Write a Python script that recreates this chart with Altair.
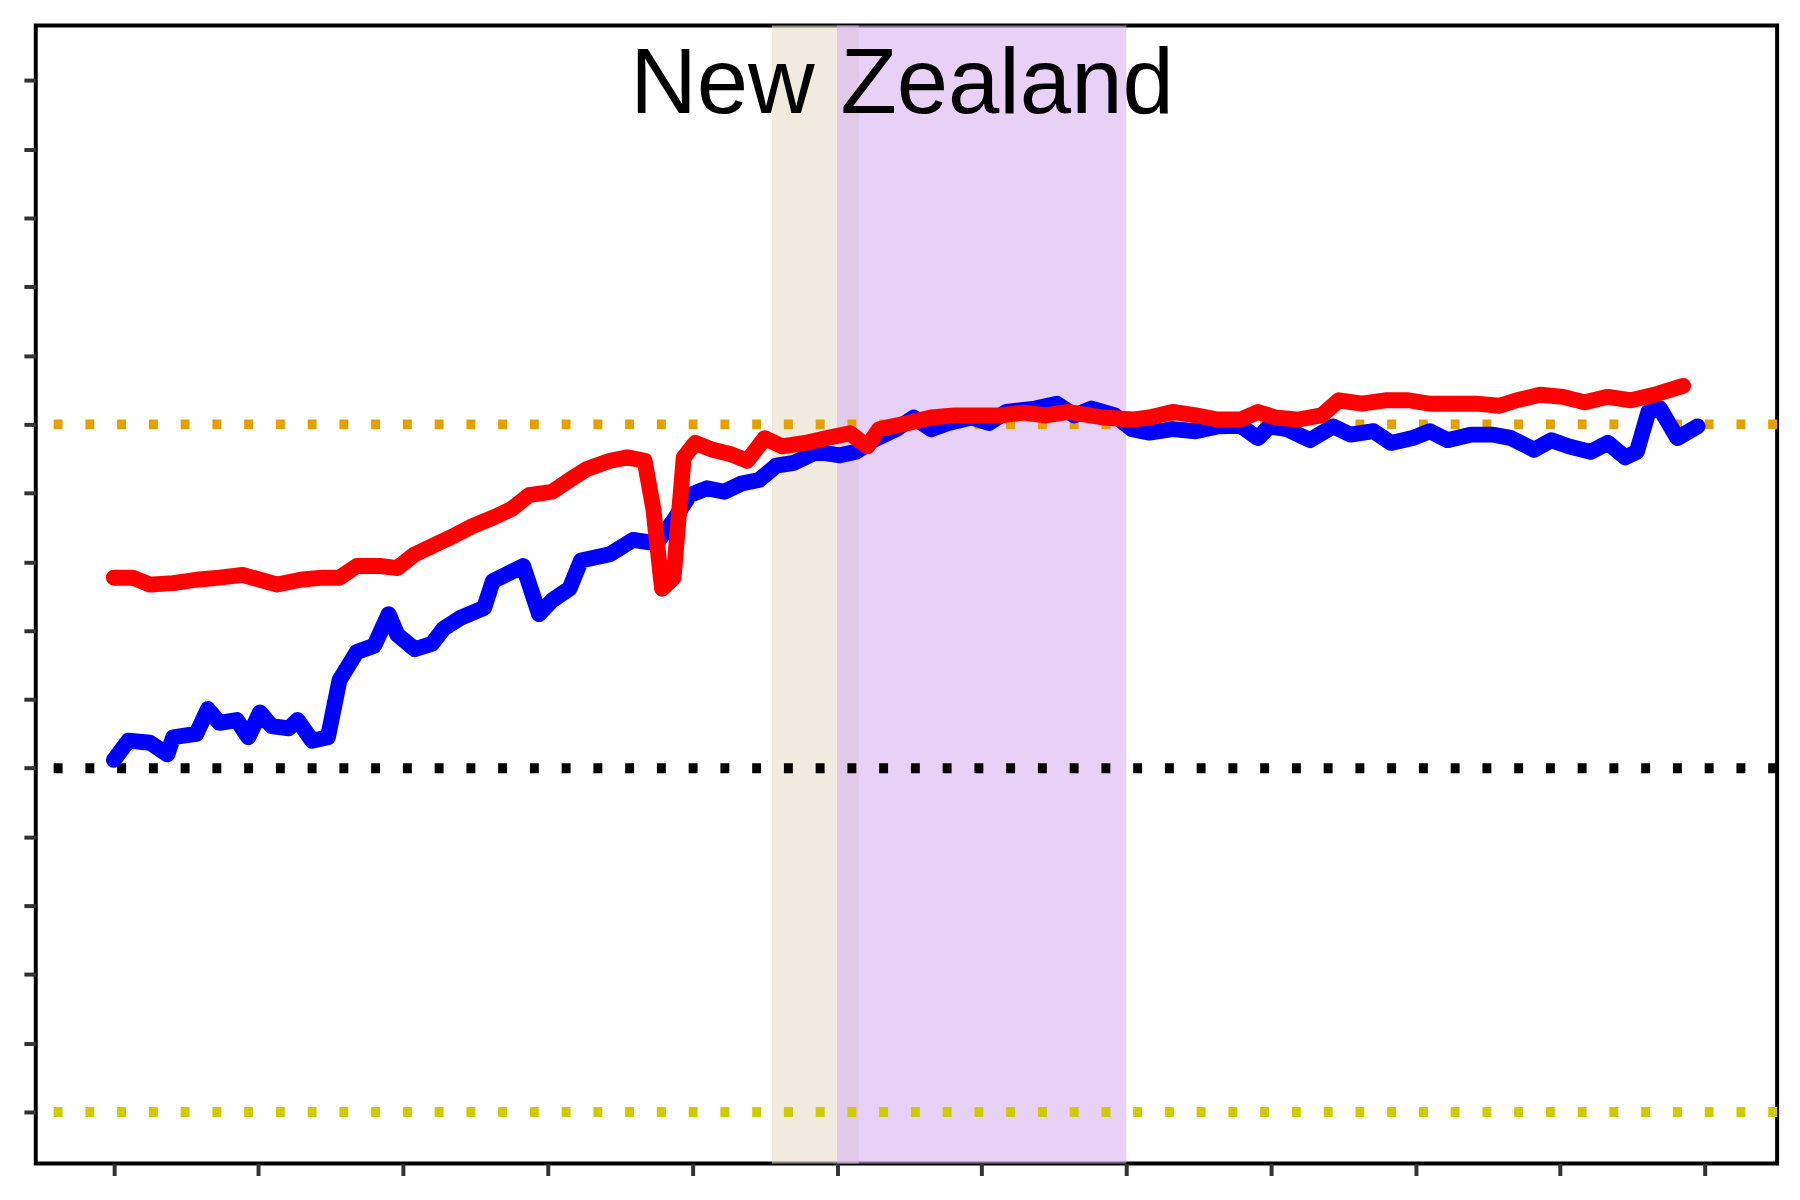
import altair as alt
import pandas as pd

# blue series
blue_x = [0, 1, 2.5, 3.7, 4.1, 5.7, 6.5, 7.3, 8.5, 9.3, 10.1, 10.9, 12.1, 12.7, 13.7, 14.8, 15.6, 16.8, 18, 19,
          19.6, 20.8, 22, 22.8, 24, 25.6, 26.2, 28.3, 29.4, 30.3, 31.5, 32.3, 34.3, 35.9, 37.5, 38.7, 39.8, 41,
          42.2, 43.4, 44.6, 45.8, 47, 48.6, 50.2, 51.3, 52.5, 54.1, 55.3, 56.5, 57.7, 59.3, 60.5, 61.7, 63.7,
          65.2, 66.4, 67.6, 69.2, 70.4, 71.6, 73.2, 74.8, 76.3, 77.9, 79.1, 79.9, 81.1, 82.7, 84.3, 85.5, 87.1,
          88.3, 89.8, 91, 92.2, 93.8, 95.4, 96.6, 98.2, 99.4, 100.6, 102.1, 103.3, 104.5, 105.3, 106.1, 106.9,
          108.1, 109.5]
blue_y = [5.12, 5.4, 5.37, 5.2, 5.45, 5.5, 5.86, 5.66, 5.7, 5.45, 5.81, 5.61, 5.58, 5.7, 5.4, 5.45, 6.28, 6.69,
          6.78, 7.24, 6.94, 6.73, 6.81, 7.03, 7.19, 7.33, 7.72, 7.94, 7.24, 7.44, 7.61, 8.02, 8.11, 8.32, 8.27,
          8.6, 8.97, 9.07, 9.02, 9.14, 9.19, 9.4, 9.44, 9.6, 9.55, 9.6, 9.77, 9.93, 10.1, 9.93, 10.02, 10.1,
          10.02, 10.18, 10.23, 10.3, 10.13, 10.23, 10.13, 9.93, 9.88, 9.93, 9.9, 9.97, 9.98, 9.8, 9.97, 9.93,
          9.77, 9.97, 9.85, 9.9, 9.73, 9.8, 9.9, 9.77, 9.85, 9.85, 9.8, 9.63, 9.77, 9.68, 9.6, 9.73, 9.52, 9.6,
          10.18, 10.23, 9.8, 9.97]

# red series
red_x = [0, 1.3, 2.5, 4.1, 5.7, 7.3, 8.9, 10.1, 11.3, 12.9, 14.4, 15.6, 16.8, 18.4, 19.6, 20.8, 22.4, 23.6,
         24.8, 26.3, 27.5, 28.7, 30.3, 31.5, 32.7, 34.3, 35.5, 36.7, 37.3, 37.9, 38.7, 39.4, 40.2, 41.4, 42.6,
         43.8, 45, 46.2, 47.8, 49.3, 50.9, 52.1, 52.9, 54.9, 56.5, 58.1, 59.7, 61.3, 62.9, 64.4, 66, 68.4,
         70.4, 71.6, 73.2, 74.8, 76.3, 77.9, 79.1, 80.3, 81.9, 83.5, 84.7, 86.3, 87.9, 89.5, 91, 92.6, 94.2,
         95.8, 97, 98.6, 100.2, 101.7, 103.3, 104.9, 106.5, 108.5]
red_y = [7.77, 7.77, 7.67, 7.69, 7.74, 7.77, 7.81, 7.74, 7.67, 7.74, 7.77, 7.77, 7.94, 7.94, 7.91, 8.11, 8.27,
         8.39, 8.52, 8.65, 8.77, 8.97, 9.02, 9.19, 9.35, 9.47, 9.52, 9.47, 8.77, 7.61, 7.77, 9.52, 9.73, 9.63,
         9.57, 9.47, 9.8, 9.68, 9.73, 9.8, 9.87, 9.68, 9.93, 10.02, 10.1, 10.13, 10.13, 10.13, 10.17, 10.13,
         10.18, 10.1, 10.07, 10.1, 10.18, 10.13, 10.07, 10.07, 10.18, 10.1, 10.07, 10.13, 10.35, 10.3, 10.35,
         10.35, 10.3, 10.3, 10.3, 10.27, 10.35, 10.43, 10.4, 10.32, 10.4, 10.35, 10.43, 10.56]

# shaded periods: start, end, colour
bands = pd.DataFrame({
    "start": [45.5, 50.0],
    "end": [51.5, 70.0],
    "color": ["#E8DCC8", "#D9B3F2"],
})

# horizontal reference levels
refs = pd.DataFrame({
    "level": [10, 5, 0],
    "color": ["#E69F00", "#000000", "#CCCC00"],
})

W, H = 1755, 1147

x_scale = alt.Scale(domain=[-5.4, 115], nice=False, zero=False)
y_scale = alt.Scale(domain=[-0.75, 15.8], nice=False, zero=False)
x_axis = alt.Axis(values=list(range(0, 111, 10)), labels=False, title=None, grid=False, domain=False,
                  tickSize=12, tickWidth=4, tickColor="#333333")
y_axis = alt.Axis(values=list(range(0, 16)), labels=False, title=None, grid=False, domain=False,
                  tickSize=12, tickWidth=4, tickColor="#333333")

band_layer = alt.Chart(bands).mark_rect(opacity=0.6).encode(
    x=alt.X("start:Q", scale=x_scale, axis=x_axis),
    x2="end:Q",
    y=alt.value(0),
    y2=alt.value(H),
    color=alt.Color("color:N", scale=None),
)

ref_layer = alt.Chart(refs).mark_rule(strokeWidth=10, strokeDash=[9, 23], strokeCap="butt").encode(
    y=alt.Y("level:Q", scale=y_scale, axis=y_axis),
    color=alt.Color("color:N", scale=None),
)

blue_df = pd.DataFrame({"x": blue_x, "y": blue_y})
red_df = pd.DataFrame({"x": red_x, "y": red_y})

blue_line = alt.Chart(blue_df).mark_line(color="#0000FF", strokeWidth=16, strokeJoin="round",
                                         strokeCap="round").encode(
    x=alt.X("x:Q", scale=x_scale, axis=x_axis), y=alt.Y("y:Q", scale=y_scale, axis=y_axis))
red_line = alt.Chart(red_df).mark_line(color="#FF0000", strokeWidth=16, strokeJoin="round",
                                       strokeCap="round").encode(
    x=alt.X("x:Q", scale=x_scale, axis=x_axis), y=alt.Y("y:Q", scale=y_scale, axis=y_axis))

title = alt.Chart(pd.DataFrame({"t": ["New Zealand"]})).mark_text(
    font="Liberation Sans", fontSize=93, baseline="alphabetic", align="center", color="black"
).encode(text="t:N", x=alt.value(873), y=alt.value(88))

chart = alt.layer(band_layer, ref_layer, blue_line, red_line, title).properties(
    width=W, height=H,
    padding={"left": 14, "top": 13, "right": 10, "bottom": 10},
    background="white",
).configure_view(stroke="black", strokeWidth=4)

chart.save("out.html", embed_options={"renderer": "svg", "actions": False})
